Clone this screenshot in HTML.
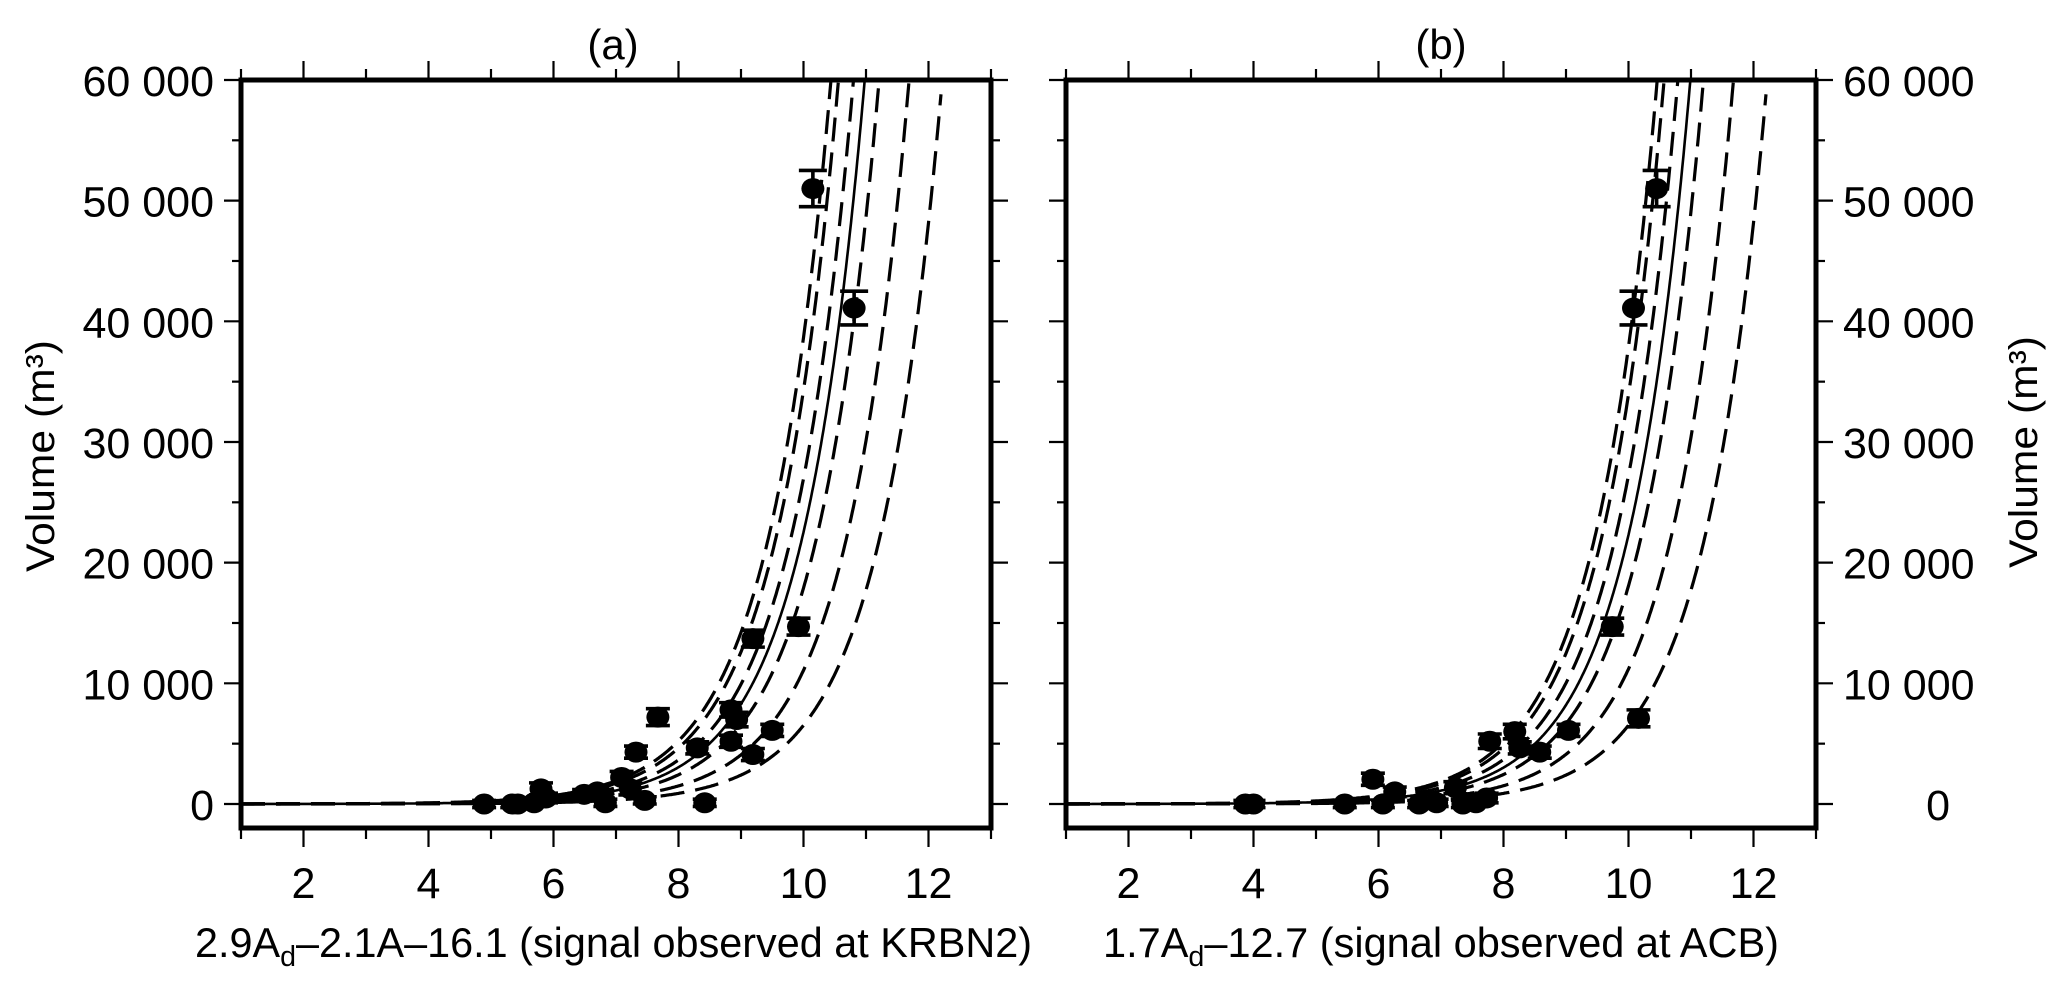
<!DOCTYPE html>
<html><head><meta charset="utf-8"><style>
html,body{margin:0;padding:0;background:#fff;}
svg{display:block;font-family:"Liberation Sans",Arial,sans-serif;}
</style></head><body>
<svg id="chart" width="2068" height="990" viewBox="0 0 2068 990" xmlns="http://www.w3.org/2000/svg">
<g id="pa"></g>
<g id="pb"></g>
<text x="613" y="59" font-size="42" text-anchor="middle">(a)</text>
<text x="1441" y="59" font-size="42" text-anchor="middle">(b)</text>
<text x="195" y="957" font-size="42" textLength="837" lengthAdjust="spacingAndGlyphs">2.9A<tspan font-size="29" dy="9">d</tspan><tspan dy="-9">–2.1A–16.1 (signal observed at KRBN2)</tspan></text>
<text x="1103" y="957" font-size="42" textLength="676" lengthAdjust="spacingAndGlyphs">1.7A<tspan font-size="29" dy="9">d</tspan><tspan dy="-9">–12.7 (signal observed at ACB)</tspan></text>
<text transform="translate(54,456) rotate(-90)" font-size="40" text-anchor="middle" textLength="232" lengthAdjust="spacingAndGlyphs">Volume (m³)</text>
<text transform="translate(2037,452) rotate(-90)" font-size="40" text-anchor="middle" textLength="232" lengthAdjust="spacingAndGlyphs">Volume (m³)</text>
</svg>
<script>
// ---- data ----
const xTicks = [2, 4, 6, 8, 10, 12];
const yTicks = [0, 10000, 20000, 30000, 40000, 50000, 60000];
const yTickLabels = ["0", "10 000", "20 000", "30 000", "40 000", "50 000", "60 000"];
// curves: x where V reaches 60000, and growth rate k
const curveX60A = [10.44, 10.56, 10.80, 10.98, 11.21, 11.69, 12.22];
const curveX60B = [10.46, 10.57, 10.79, 10.99, 11.20, 11.68, 12.22];
const curveK = [1.0, 1.0, 1.0, 1.0, 1.0, 1.0, 1.0];
const curveSolid = [false, false, false, true, false, false, false];
// panel a points
const ptsAx = [4.89, 5.34, 5.43, 5.69, 5.80, 5.88, 6.49, 6.70, 6.83, 7.09, 7.23, 7.32, 7.46, 7.67, 8.30, 8.42, 8.84, 8.93, 8.84, 9.19, 9.19, 9.50, 9.92, 10.15, 10.81];
const ptsAy = [0, 0, 0, 100, 1250, 500, 800, 1000, 100, 2200, 1250, 4300, 300, 7200, 4650, 100, 7800, 7000, 5200, 4100, 13700, 6100, 14700, 51000, 41100];
const errA  = [300, 300, 300, 300, 500, 400, 400, 400, 300, 500, 500, 500, 300, 700, 500, 300, 600, 600, 500, 500, 700, 500, 700, 1500, 1400];
// panel b points
const ptsBx = [3.87, 4.00, 5.46, 5.91, 6.07, 6.26, 6.65, 6.93, 7.23, 7.35, 7.56, 7.73, 7.78, 8.18, 8.26, 8.58, 9.04, 9.74, 10.16, 10.08, 10.45];
const ptsBy = [0, 0, 0, 2050, 0, 1000, 0, 100, 1350, 0, 100, 500, 5200, 6000, 4650, 4300, 6100, 14700, 7100, 41100, 51000];
const errB  = [300, 300, 300, 500, 300, 400, 300, 300, 500, 300, 300, 400, 600, 600, 500, 500, 500, 700, 700, 1400, 1500];

const NS = "http://www.w3.org/2000/svg";
function mk(parent, tag, attrs) {
  const e = document.createElementNS(NS, tag);
  for (const k in attrs) e.setAttribute(k, attrs[k]);
  parent.appendChild(e);
  return e;
}
const Y0 = 804, PY = 120.67 / 10000, TOP = 80, BOT = 828;
function yS(v) { return Y0 - v * PY; }

function panel(g, L, cx60, px, py, err, side, tag) {
  const R = L + 750;
  const xS = x => L + (x - 1) * 62.5;
  const cg = mk(g, "g", {});
  
  
  for (let i = 0; i < cx60.length; i++) {
    const xEnd = Math.min(cx60[i], 12.2);
    let d = "";
    for (let x = 1; x <= xEnd + 1e-9; x += 0.02) {
      const v = 60000 * Math.exp(curveK[i] * (x - cx60[i]));
      d += (d ? "L" : "M") + xS(x).toFixed(1) + "," + yS(v).toFixed(1);
    }
    const v2 = 60000 * Math.exp(curveK[i] * (xEnd - cx60[i]));
    d += "L" + xS(xEnd).toFixed(1) + "," + yS(v2).toFixed(1);
    const p = mk(cg, "path", {d: d, fill: "none", stroke: "#000", "stroke-width": curveSolid[i] ? 2.6 : 3.2});
    if (!curveSolid[i]) p.setAttribute("stroke-dasharray", "24,11");
    
    
  }
  const pg = mk(g, "g", {});
  
  
  for (let i = 0; i < px.length; i++) {
    const X = xS(px[i]), Yc = yS(py[i]), e = err[i] * PY;
    const pt = mk(pg, "g", {});
    
    
    const hw = py[i] > 30000 ? 14 : 12;
    mk(pt, "path", {d: `M${X},${Yc - e}V${Yc + e}M${X - hw},${Yc - e}h${2 * hw}M${X - hw},${Yc + e}h${2 * hw}`, stroke: "#000", "stroke-width": 3.6, fill: "none"});
    mk(pt, "ellipse", {cx: X, cy: Yc, rx: 11.5, ry: 10.5, fill: "#000"});
  }
  const tg = mk(g, "g", {stroke: "#000", "stroke-width": 2.2});
  
  
  for (let x = 1; x <= 13; x++) {
    const len = x % 2 === 0 ? 19 : 11;
    mk(tg, "line", {x1: xS(x), y1: BOT, x2: xS(x), y2: BOT + len});
    mk(tg, "line", {x1: xS(x), y1: TOP, x2: xS(x), y2: TOP - len});
  }
  for (let v = 0; v <= 60000; v += 5000) {
    const len = v % 10000 === 0 ? 17 : 9;
    mk(tg, "line", {x1: L, y1: yS(v), x2: L - len, y2: yS(v)});
    mk(tg, "line", {x1: R, y1: yS(v), x2: R + len, y2: yS(v)});
  }
  const fr = mk(g, "rect", {x: L, y: TOP, width: 750, height: BOT - TOP, fill: "none", stroke: "#000", "stroke-width": 5});
  
  
  for (let i = 0; i < xTicks.length; i++) {
    const t = mk(g, "text", {x: xS(xTicks[i]), y: 898, "font-size": 43, "text-anchor": "middle"});
    t.textContent = xTicks[i];
    
    
  }
  for (let i = 0; i < yTicks.length; i++) {
    const t = side === "left"
      ? mk(g, "text", {x: L - 27, y: yS(yTicks[i]) + 16, "font-size": 43, "text-anchor": "end"})
      : mk(g, "text", {x: R + 27, y: yS(yTicks[i]) + 16, "font-size": 43, "text-anchor": "start"});
    if (side !== "left" && yTickLabels[i] === "0") { t.setAttribute("x", R + 134); t.setAttribute("text-anchor", "end"); }
    t.textContent = yTickLabels[i];
    
    
  }
}
panel(document.getElementById("pa"), 241, curveX60A, ptsAx, ptsAy, errA, "left", "a");
panel(document.getElementById("pb"), 1066, curveX60B, ptsBx, ptsBy, errB, "right", "b");
</script>
</body></html>
